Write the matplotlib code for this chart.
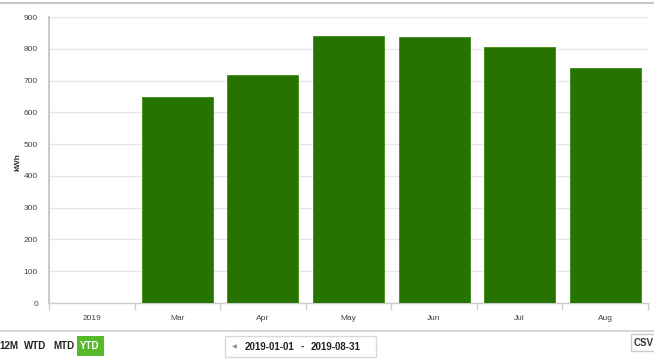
import matplotlib
matplotlib.use("Agg")
import matplotlib.pyplot as plt
from matplotlib.patches import Rectangle

plt.rcParams["font.family"] = ["Liberation Sans", "DejaVu Sans"]

categories = ["2019", "Mar", "Apr", "May", "Jun", "Jul", "Aug"]
values = [0, 648, 717, 841, 838, 805, 738]
yticks = [0, 100, 200, 300, 400, 500, 600, 700, 800, 900]
buttons = ["12M", "WTD", "MTD", "YTD"]
date_start = "2019-01-01"
date_end = "2019-08-31"

W, H = 654, 361
fig = plt.figure(figsize=(W / 100, H / 100), dpi=100)
fig.patch.set_facecolor("white")

x0, x1 = 49, 648
y_top, y_bot = 17, 303
ax = fig.add_axes([x0 / W, 1 - y_bot / H, (x1 - x0) / W, (y_bot - y_top) / H])

xs = list(range(len(categories)))
ax.bar(xs, values, width=0.83, color="#267300", edgecolor="#3a8a10", linewidth=0.6, zorder=3)
ax.set_xlim(-0.5, len(categories) - 0.5)
ax.set_ylim(0, 900)
ax.set_yticks(yticks)
ax.set_yticklabels([str(v) for v in yticks], fontsize=6, color="#444444")
ax.yaxis.grid(True, color="#e6e6e6", linewidth=1, zorder=0)
ax.set_axisbelow(True)
ax.tick_params(axis="y", length=0, pad=8)

ax.set_xticks(xs)
ax.set_xticklabels(categories, fontsize=6, color="#444444")
ax.set_xticks([i + 0.5 for i in range(-1, len(categories))], minor=True)
ax.tick_params(axis="x", which="major", length=0, pad=9)
ax.tick_params(axis="x", which="minor", length=5, color="#cccccc", width=1)

for s in ["top", "right"]:
    ax.spines[s].set_visible(False)
ax.spines["left"].set_color("#cccccc")
ax.spines["left"].set_linewidth(1.5)
ax.spines["bottom"].set_color("#cccccc")
ax.spines["bottom"].set_linewidth(1)

fig.text(18 / W, 1 - 162 / H, "kWh", rotation=90, fontsize=6, fontweight="bold",
         color="#333333", ha="center", va="center")

# top and separator lines
fig.add_artist(plt.Line2D([0, 1], [1 - 3 / H, 1 - 3 / H], color="#c8c8c8", linewidth=1.5))
fig.add_artist(plt.Line2D([0, 1], [1 - 331 / H, 1 - 331 / H], color="#d0d0d0", linewidth=1.2))

# buttons
bx = [9, 35, 64, 90]
for name, x in zip(buttons, bx):
    if name == "YTD":
        fig.add_artist(Rectangle(((x - 13.5) / W, 1 - 356 / H), 27 / W, 20 / H,
                                 transform=fig.transFigure, facecolor="#55b92a", edgecolor="none"))
        col = "white"
    else:
        col = "#222222"
    fig.text(x / W, 1 - 346 / H, name, fontsize=7, fontweight="bold", color=col,
             ha="center", va="center")

# date range box
fig.add_artist(Rectangle((225 / W, 1 - 357 / H), 151 / W, 21 / H, transform=fig.transFigure,
                         facecolor="white", edgecolor="#d8d8d8", linewidth=1))
fig.text(234 / W, 1 - 347 / H, "\u25c0", fontsize=4.5, color="#888888", ha="center", va="center",
         family=["DejaVu Sans"])
fig.text(245 / W, 1 - 347 / H, date_start, fontsize=7, fontweight="bold", color="#222222",
         ha="left", va="center")
fig.text(302 / W, 1 - 347 / H, "-", fontsize=7, fontweight="bold", color="#222222",
         ha="center", va="center")
fig.text(311 / W, 1 - 347 / H, date_end, fontsize=7, fontweight="bold", color="#222222",
         ha="left", va="center")

# CSV button
fig.add_artist(Rectangle((631 / W, 1 - 351 / H), 30 / W, 17 / H, transform=fig.transFigure,
                         facecolor="white", edgecolor="#cccccc", linewidth=1))
fig.text(634 / W, 1 - 343 / H, "CSV", fontsize=7, fontweight="bold", color="#333333",
         ha="left", va="center")

fig.savefig("out.png", dpi=100, facecolor="white")
